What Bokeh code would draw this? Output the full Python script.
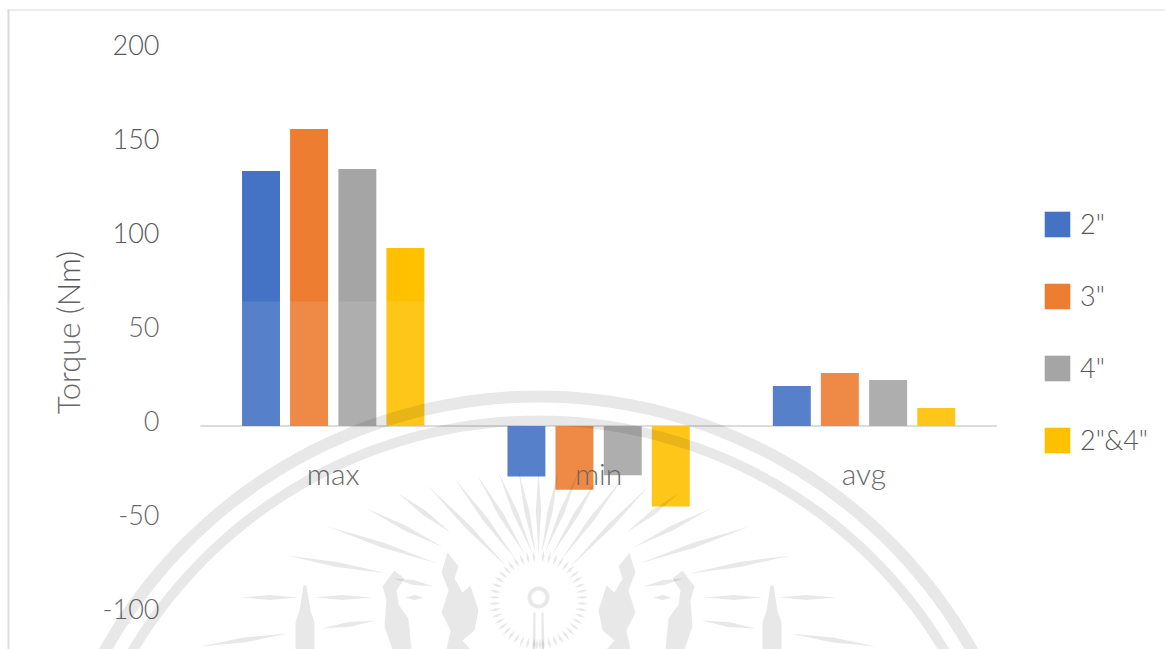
import math
from bokeh.embed import file_html
from bokeh.resources import INLINE
from bokeh.plotting import figure
from bokeh.models import (ColumnDataSource, Range1d, LinearAxis, Legend, LegendItem, Label,
                          PolyAnnotation, FixedTicker)
from bokeh.transform import dodge

categories = ["max", "min", "avg"]
series_names = ['2"', '3"', '4"', '2"&4"']
v_2in = [135.6, -26.8, 21.3]
v_3in = [158.0, -33.9, 28.2]
v_4in = [136.7, -26.2, 24.5]
v_24in = [94.7, -42.8, 9.6]
colors = ["#4472C4", "#ED7D31", "#A5A5A5", "#FFC000"]
y_ticks = [-100, -50, 0, 50, 100, 150, 200]

W, H = 1165, 649
FONT = "Lato Light"
TXT = "#595959"
PX = 1.88     # pixels per Nm
XPX = 265.4   # pixels per category
XL = 200      # column where the first category starts
y0 = 425.5    # row of zero
yl = 420.5    # row of the "0" tick label

pos = [i + 0.5 for i in range(len(categories))]
src = ColumnDataSource(dict(x=pos, a=v_2in, b=v_3in, c=v_4in, d=v_24in))
p = figure(width=W, height=H, output_backend="svg", toolbar_location=None,
           x_range=Range1d(-XL / XPX, (W - XL) / XPX),
           y_range=Range1d(-(H - y0) / PX, y0 / PX),
           x_axis_location=None, y_axis_location=None,
           min_border_left=0, min_border_right=0, min_border_top=0, min_border_bottom=0,
           outline_line_color=None, background_fill_color="white", border_fill_color="white")
p.grid.visible = False

p.segment(x0=[0], x1=[len(categories)], y0=[0], y1=[0], line_color="#D9D9D9", line_width=2)

renderers = []
for col, off, c in zip("abcd", [-0.272, -0.091, 0.091, 0.272], colors):
    renderers.append(p.vbar(x=dodge("x", off), top=col, bottom=0, width=0.143,
                            source=src, fill_color=c, line_color=None))

p.extra_y_ranges = {"ticks": Range1d(-(H - yl) / PX, yl / PX)}
ya = LinearAxis(y_range_name="ticks", fixed_location=(165 - XL) / XPX, ticker=FixedTicker(ticks=y_ticks),
                axis_line_color=None, major_tick_line_color=None, minor_tick_line_color=None,
                major_label_standoff=0, major_label_overrides={t: str(t) for t in y_ticks},
                major_label_text_font=FONT, major_label_text_font_size="27px", major_label_text_color=TXT)
p.add_layout(ya, "left")

xa = LinearAxis(fixed_location=0, ticker=FixedTicker(ticks=pos), axis_line_color=None,
                major_tick_line_color=None, minor_tick_line_color=None, major_label_standoff=23,
                major_label_overrides=dict(zip(pos, categories)),
                major_label_text_font=FONT, major_label_text_font_size="30px", major_label_text_color=TXT)
p.add_layout(xa, "below")

p.add_layout(Label(x=67, y=H - 332, x_units="screen", y_units="screen", text="Torque (Nm)", angle=math.pi / 2,
                   text_align="center", text_baseline="middle", text_font=FONT,
                   text_font_size="31px", text_color=TXT))

legend = Legend(items=[LegendItem(label=n, renderers=[r]) for n, r in zip(series_names, renderers)],
                location=(1041, 193), orientation="vertical", glyph_width=32, glyph_height=32,
                label_standoff=7, spacing=39, padding=0, margin=0, border_line_color=None,
                background_fill_alpha=0, label_text_font=FONT, label_text_font_size="27px",
                label_text_color=TXT, label_height=26, label_text_baseline="alphabetic")
p.add_layout(legend, "center")

def poly(xs, ys, fill="black", alpha=0.09):
    p.add_layout(PolyAnnotation(xs=list(xs), ys=list(ys), xs_units="canvas", ys_units="canvas",
                                fill_color=fill, fill_alpha=alpha, line_color=None, level="overlay"))

poly([7, 9, 9, 7], [9, 9, H, H], "#D9D9D9", 1)
poly([7, W, W, 7], [9, 9, 10, 10], "#D9D9D9", 1)
poly([0, W, W, 0], [301, 301, H, H], "white", 0.1)

cx, cy = 538, 893
def ring(r1, r2, a1=-165, a2=-15, n=90):
    ang = [math.radians(a1 + (a2 - a1) * i / n) for i in range(n + 1)]
    xs = [cx + r2 * math.cos(a) for a in ang] + [cx + r1 * math.cos(a) for a in reversed(ang)]
    ys = [cy + r2 * math.sin(a) for a in ang] + [cy + r1 * math.sin(a) for a in reversed(ang)]
    poly(xs, ys)
ring(491, 503)
ring(468, 478)

sx, sy = 538, 600
def stroke(x1, y1, x2, y2, w=2.6):
    dx, dy = x2 - x1, y2 - y1
    n = math.hypot(dx, dy) or 1
    nx, ny = -dy / n * w, dx / n * w
    xm, ym = (x1 + x2) / 2, (y1 + y2) / 2
    poly([x1, xm + nx, x2, xm - nx], [y1, ym + ny, y2, ym - ny])

left_strokes = [(286, 555, 387, 573), (327, 526, 437, 563), (366, 508, 443, 547), (398, 493, 450, 532),
                (427, 485, 507, 567), (454, 478, 516, 560), (477, 475, 525, 555), (498, 472, 532, 553),
                (518, 470, 535, 553), (241, 597, 298, 597), (314, 597, 371, 597), (405, 597, 423, 597),
                (321, 628, 375, 620), (200, 646, 287, 633), (393, 578, 433, 586)]
for x1, y1, x2, y2 in left_strokes:
    stroke(x1, y1, x2, y2)
    stroke(2 * sx - x1, y1, 2 * sx - x2, y2)
stroke(sx, 468, sx, 553)

for i in range(-11, 12):
    a = math.radians(i * 8 + 4)
    for s in (-1, 1):
        stroke(sx + s * 38 * math.cos(a), sy + 38 * math.sin(a),
               sx + s * 50 * math.cos(a), sy + 50 * math.sin(a), 1.4)

ang = [math.radians(i * 12) for i in range(31)]
rim = [(sx + 11 * math.cos(a), sy - 3 + 11 * math.sin(a)) for a in ang]
core = [(sx + 7 * math.cos(a), sy - 3 + 7 * math.sin(a)) for a in ang]
poly([q[0] for q in rim] + [q[0] for q in reversed(core)], [q[1] for q in rim] + [q[1] for q in reversed(core)])
poly([sx - 5, sx - 3, sx - 3, sx - 6], [612, 612, H, H])
poly([sx + 3, sx + 5, sx + 6, sx + 3], [612, 612, H, H])

flame_a = [(447, 552), (458, 566), (454, 578), (462, 592), (470, 585), (478, 610), (474, 630), (462, 640),
           (470, 649), (446, 649), (450, 630), (441, 612), (448, 590), (441, 572)]
flame_b = [(394, 570), (404, 578), (396, 590), (398, 604), (408, 618), (411, 649), (392, 649), (384, 626),
           (386, 600), (382, 586)]
tower = [(303, 585), (306, 585), (310, 610), (314, 622), (314, 649), (295, 649), (295, 622), (299, 610)]
for shape in (flame_a, flame_b, tower):
    poly([q[0] for q in shape], [q[1] for q in shape])
    poly([2 * sx - q[0] for q in shape], [q[1] for q in shape])

open("out.html", "w").write(file_html(p, INLINE))
